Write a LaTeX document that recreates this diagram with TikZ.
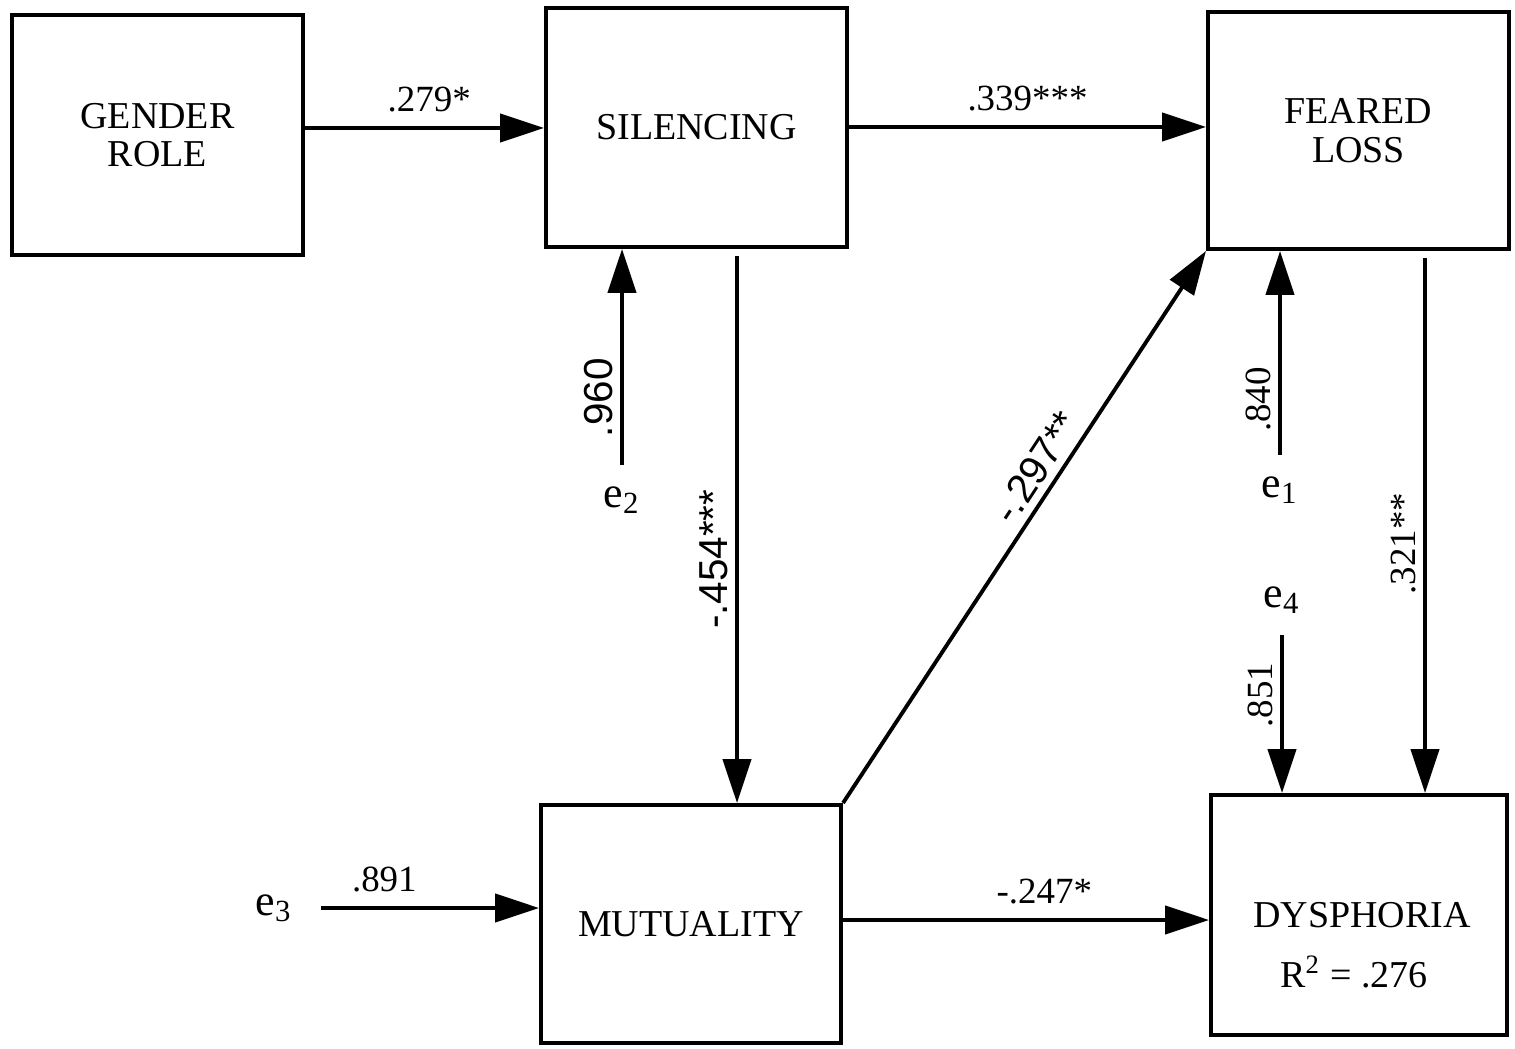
\documentclass[tikz,border=0pt]{standalone}
\usepackage{fontspec}
\setmainfont{Liberation Serif}
\newfontfamily\lsans{Liberation Sans}
\usetikzlibrary{arrows.meta}
\begin{document}
\begin{tikzpicture}[x=0.01cm,y=-0.01cm,
  box/.style={draw,line width=1.1pt,rectangle,inner sep=0pt,align=center,font=\fontsize{10.8}{10.9}\selectfont},
  arr/.style={line width=1.1pt,-{Triangle[length=12.5pt,width=8pt]}},
  lab/.style={font=\fontsize{10.5}{12}\selectfont,inner sep=2pt},
  slab/.style={font=\lsans\fontsize{11.5}{12}\selectfont,inner sep=2pt},
  err/.style={font=\fontsize{12.5}{14}\selectfont,inner xsep=1pt,inner ysep=6pt}]
\useasboundingbox (0,0) rectangle (1515,1049);
\fill[white] (0,0) rectangle (1515,1049);

% boxes
\node[box,minimum width=2.91cm,minimum height=2.40cm] (gr) at (157.5,135) {GENDER\\ROLE};
\node[box,minimum width=3.01cm,minimum height=2.39cm] (sil) at (696.5,127.5) {SILENCING};
\node[box,minimum width=3.01cm,minimum height=2.37cm] (fl) at (1358.5,130.5) {FEARED\\LOSS};
\node[box,minimum width=3.00cm,minimum height=2.38cm] (mu) at (691,924) {MUTUALITY};
\node[box,minimum width=2.96cm,minimum height=2.40cm] (dy) at (1359,915) {};
\node[font=\fontsize{10.8}{12}\selectfont,inner sep=0pt] (dyt) at (1362,915) {DYSPHORIA};
\node[font=\fontsize{10.8}{12}\selectfont,inner sep=0pt] (r2) at (1354,972) {R\textsuperscript{2} = .276};

% error terms
\node[err] (e2) at (622,500) {e\textsubscript{2}};
\node[err] (e1) at (1280,490) {e\textsubscript{1}};
\node[err] (e4) at (1282,600) {e\textsubscript{4}};
\node[err,inner xsep=8pt,inner ysep=1pt] (e3) at (274,908) {e\textsubscript{3}};

% helper coordinates
\coordinate (y128) at (0,128);
\coordinate (y127) at (0,127);
\coordinate (y920) at (0,920);
\coordinate (x737) at (737,0);
\coordinate (x1425) at (1425,0);

% paths
\draw[arr] (gr.east |- y128) -- node[lab,above=2pt,pos=0.52]{.279*} (sil.west |- y128);
\draw[arr] (sil.east |- y127) -- node[lab,above=2pt]{.339***} (fl.west |- y127);
\draw[arr,shorten <=2pt] (sil.south -| x737) -- node[slab,pos=0.56,rotate=90,anchor=south]{-.454***} (mu.north -| x737);
\draw[arr] (e2.north) -- node[slab,pos=0.31,rotate=90,anchor=south]{.960} (e2.north |- sil.south);
\draw[arr] (e1.north) -- node[lab,pos=0.27,rotate=90,anchor=south]{.840} (e1.north |- fl.south);
\draw[arr] (e4.south) -- node[lab,pos=0.38,rotate=90,anchor=south]{.851} (e4.south |- dy.north);
\draw[arr,shorten <=2pt] (fl.south -| x1425) -- node[lab,pos=0.54,rotate=90,anchor=south]{.321**} (dy.north -| x1425);
\draw[arr] (mu.north east) -- node[slab,pos=0.585,sloped,above]{-.297**} (fl.south west);
\draw[arr] (e3.east) -- node[lab,above=2pt,pos=0.29]{.891} (e3.east -| mu.west);
\draw[arr] (mu.east |- y920) -- node[lab,above=2pt,pos=0.55]{-.247*} (dy.west |- y920);
\end{tikzpicture}
\end{document}
